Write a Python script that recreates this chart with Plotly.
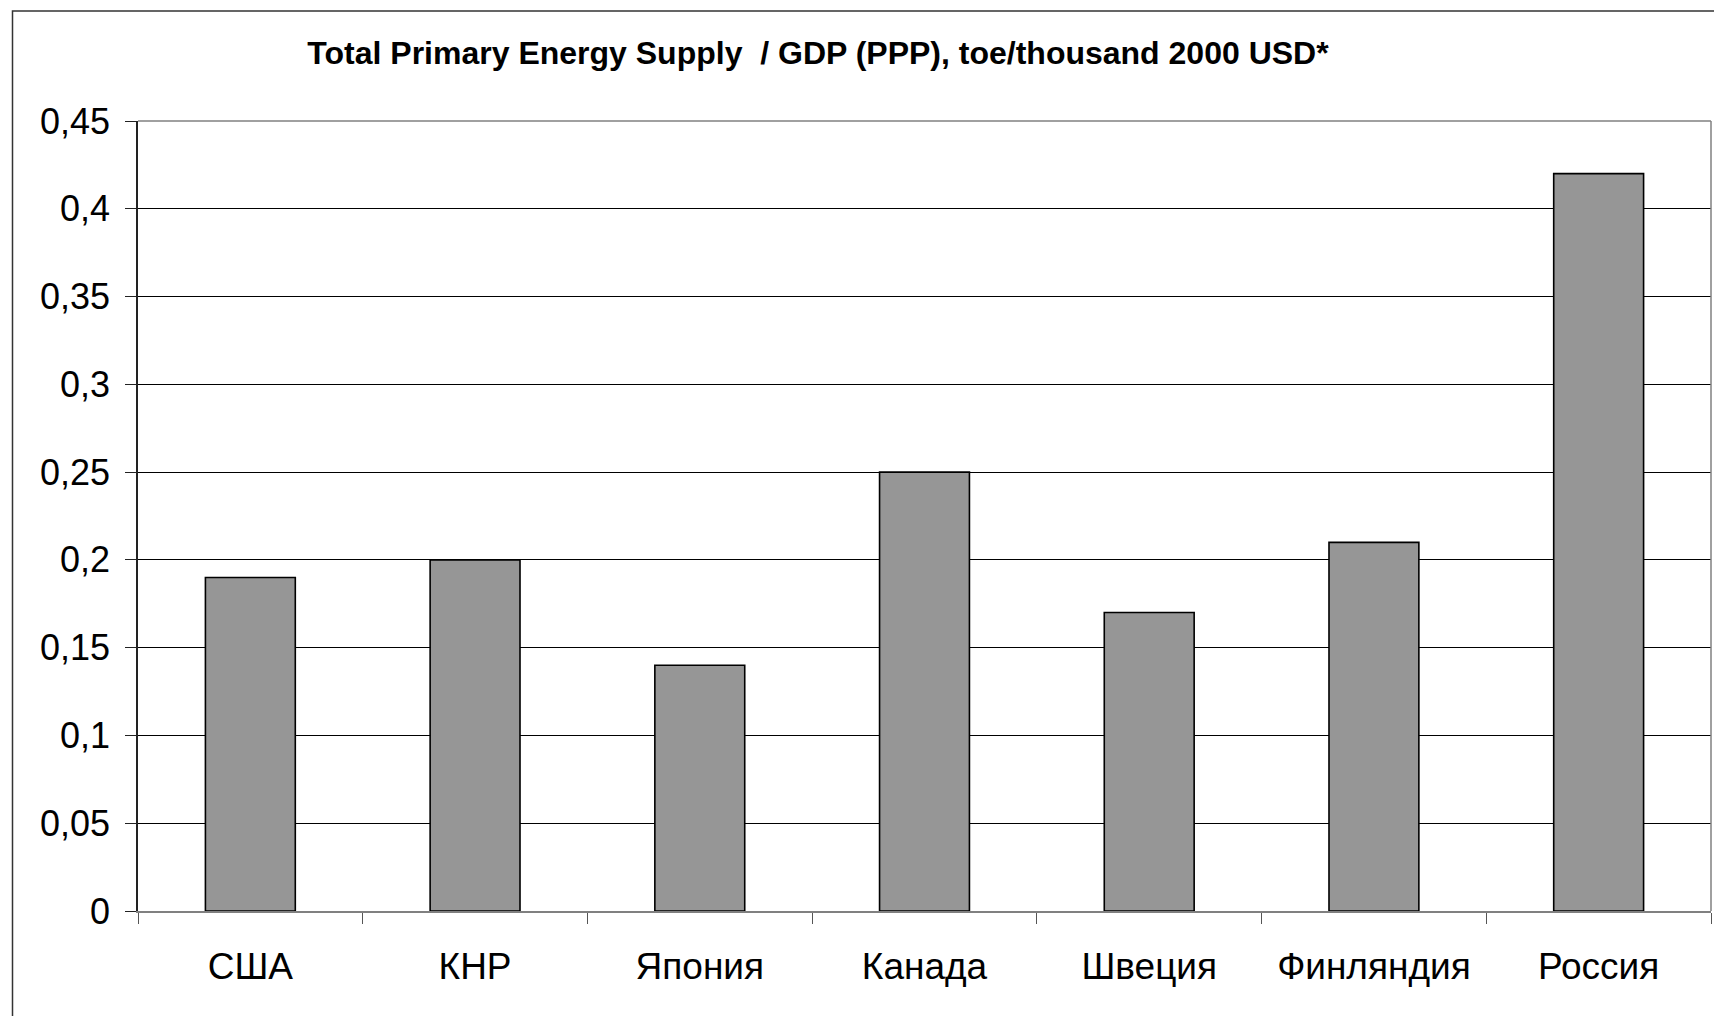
import plotly.graph_objects as go

categories = ["США", "КНР", "Япония", "Канада", "Швеция", "Финляндия", "Россия"]
values = [0.19, 0.20, 0.14, 0.25, 0.17, 0.21, 0.42]
y_ticks = [0, 0.05, 0.1, 0.15, 0.2, 0.25, 0.3, 0.35, 0.4, 0.45]
title_text = "Total Primary Energy Supply  / GDP (PPP), toe/thousand 2000 USD*"

FONT = "Arial, Liberation Sans, sans-serif"

fig = go.Figure()
fig.add_trace(go.Bar(
    x=categories, y=values,
    marker=dict(color="#969696", line=dict(color="black", width=1.6)),
    width=0.4,
))

# page has 8px body margin; size figure to fit
W, H = 1714, 1008
ml, mr, mt, mb = 130, 11, 113, 105
pw = W - ml - mr
ph = H - mt - mb

fig.update_layout(
    width=W, height=H,
    margin=dict(l=ml, r=mr, t=mt, b=mb),
    paper_bgcolor="white", plot_bgcolor="white",
    separators=", ",
    showlegend=False,
    font=dict(family=FONT, color="black"),
    title=dict(text="<b>" + title_text + "</b>", x=810 / W, xanchor="center",
               xref="container", yref="container", y=1 - 45 / H, yanchor="middle",
               font=dict(size=32, family=FONT, color="black")),
    xaxis=dict(
        showline=True, linecolor="#808080", linewidth=1.5,
        ticks="outside", ticklen=11, tickcolor="#555555", tickwidth=1,
        tickson="boundaries", showgrid=False,
        tickfont=dict(size=37, family=FONT, color="black"),
        ticklabelstandoff=22,
    ),
    yaxis=dict(
        range=[0, 0.45], tickvals=y_ticks,
        showgrid=True, gridcolor="black", gridwidth=1,
        showline=True, linecolor="#222222", linewidth=1.5,
        ticks="outside", ticklen=11, tickcolor="#222222", tickwidth=1,
        tickfont=dict(size=36, family=FONT, color="black"),
        ticklabelstandoff=8,
        zeroline=False,
    ),
    shapes=[
        dict(type="line", xref="paper", yref="paper", x0=0, x1=1, y0=1, y1=1,
             line=dict(color="#808080", width=1.5)),
        dict(type="line", xref="paper", yref="paper", x0=1, x1=1, y0=0, y1=1,
             line=dict(color="#808080", width=1.5)),
        dict(type="rect", xref="paper", yref="paper",
             x0=(4.5 - ml) / pw, x1=1.2, y0=-0.3, y1=1 + (mt - 3) / ph,
             line=dict(color="#333333", width=1.5), layer="above"),
    ],
)

fig.write_html("out.html")
